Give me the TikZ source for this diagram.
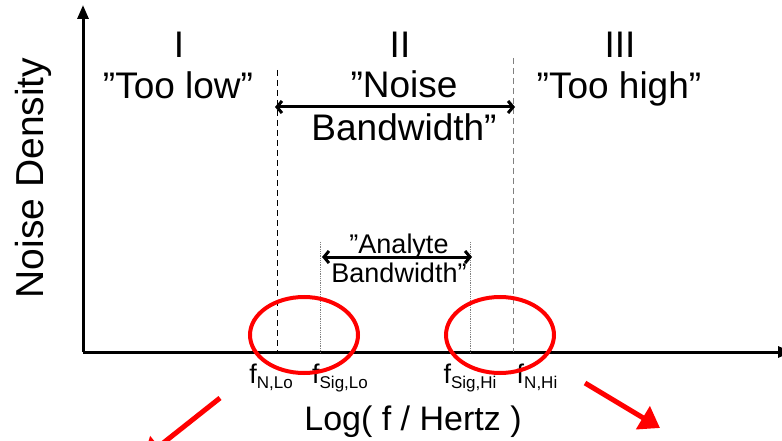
\documentclass[tikz,border=0pt]{standalone}
\usepackage{fontspec}
\setmainfont{Liberation Sans}
\usetikzlibrary{arrows.meta}
\usetikzlibrary{shapes.geometric}

\newcommand{\fsub}[1]{f\raisebox{-5pt}{\fontsize{17}{18}\selectfont #1}}

\begin{document}
\begin{tikzpicture}[x=1pt,y=-1pt,
axis/.style={line width=3pt,-{Triangle[length=14pt,width=11pt]}},
band/.style={line width=3pt,{Straight Barb[length=5pt,width=12pt]}-{Straight Barb[length=5pt,width=12pt]}},
big/.style={font=\fontsize{37}{43}\selectfont,align=center},
small/.style={font=\fontsize{27}{29}\selectfont,align=center},
flabel/.style={font=\fontsize{27}{28}\selectfont,anchor=base,inner sep=0pt},
ring/.style={draw=red,line width=4pt,ellipse,minimum width=108pt,minimum height=76pt},
hint/.style={red,line width=5pt,-{Triangle[length=20pt,width=26pt]}}]

\useasboundingbox (0,0) rectangle (782,441);

% axes
\coordinate (O) at (83,352);
\coordinate (ytop) at (83,5);
\coordinate (xend) at (792,352);
\draw[axis] (O) -- (ytop);
\draw[axis] (O) -- (xend);

% band limits
\coordinate (NLo) at (277,352);
\coordinate (NLotop) at (277,70);
\coordinate (NHi) at (513,352);
\coordinate (NHitop) at (513,58);
\coordinate (SLo) at (320,352);
\coordinate (SLotop) at (320,242);
\coordinate (SHi) at (470,352);
\coordinate (SHitop) at (470,242);
\draw[line width=1pt,dash pattern=on 6pt off 4pt] (NLotop) -- (NLo);
\draw[gray,line width=1pt,dash pattern=on 6pt off 4pt] (NHitop) -- (NHi);
\draw[gray,densely dotted,line width=0.8pt] (SLotop) -- (SLo);
\draw[gray,densely dotted,line width=0.8pt] (SHitop) -- (SHi);

% regions
\node[big,anchor=base] (reg1) at (179,58) {I};
\node[big,anchor=base] (reg2) at (400,58) {II};
\node[big,anchor=base] (reg3) at (620,58) {III};
\node[big,anchor=base] (low) at (178,99) {”Too low”};
\node[big,anchor=base] (high) at (619,99) {”Too high”};
\node[big] (noise) at (404,106) {”Noise\\Bandwidth”};
\node[small] (analyte) at (399,258) {”Analyte\\Bandwidth”};

% bandwidth arrows
\coordinate (nbL) at (275,107);
\coordinate (nbR) at (515,107);
\coordinate (abL) at (322,257);
\coordinate (abR) at (472,257);
\draw[band] (nbL) -- (nbR);
\draw[band] (abL) -- (abR);

% axis labels
\node[font=\fontsize{39}{43}\selectfont,rotate=90] (ylab) at (33,178) {Noise Density};
\node[font=\fontsize{34}{40}\selectfont,anchor=base] (xlab) at (413,430) {Log( f / Hertz )};
\node[flabel] (fNLo) at (271,383) {\fsub{N,Lo}};
\node[flabel] (fSLo) at (340,383) {\fsub{Sig,Lo}};
\node[flabel] (fSHi) at (470,383) {\fsub{Sig,Hi}};
\node[flabel] (fNHi) at (537,383) {\fsub{N,Hi}};

% edges of the band
\node[ring] (loring) at (304,335) {};
\node[ring] (hiring) at (500,335) {};
\coordinate (loout) at (220,398);
\coordinate (loend) at (143,459);
\coordinate (hiout) at (585,383);
\coordinate (hiend) at (660,428);
\draw[hint] (loout) -- (loend);
\draw[hint] (hiout) -- (hiend);
\end{tikzpicture}
\end{document}
